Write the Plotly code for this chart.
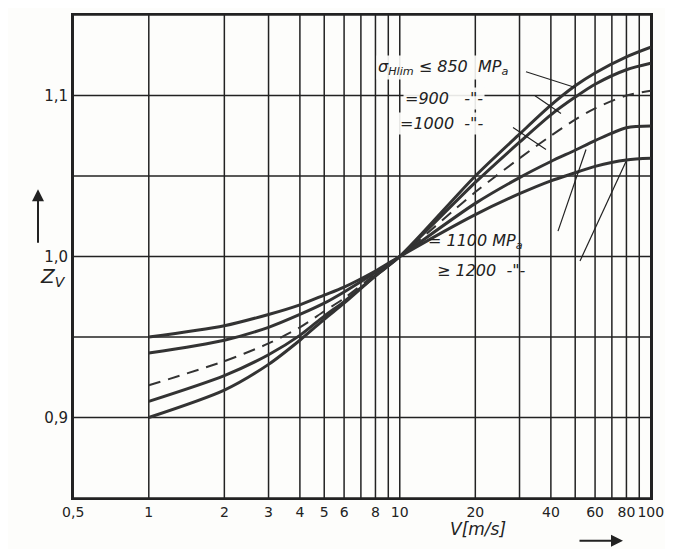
import plotly.graph_objects as go

v = [1, 2, 3, 4, 5, 6, 8, 10, 20, 30, 40, 50, 60, 80, 100]
z850 = [0.900, 0.917, 0.933, 0.948, 0.961, 0.971, 0.988, 1.0, 1.050, 1.076, 1.094, 1.106, 1.114, 1.124, 1.130]
z900 = [0.910, 0.926, 0.939, 0.951, 0.963, 0.972, 0.988, 1.0, 1.046, 1.071, 1.088, 1.099, 1.107, 1.116, 1.120]
z1000 = [0.920, 0.935, 0.946, 0.956, 0.966, 0.974, 0.989, 1.0, 1.040, 1.061, 1.075, 1.085, 1.092, 1.100, 1.103]
z1100 = [0.940, 0.948, 0.956, 0.964, 0.971, 0.978, 0.990, 1.0, 1.033, 1.049, 1.059, 1.066, 1.072, 1.080, 1.081]
z1200 = [0.950, 0.957, 0.964, 0.970, 0.976, 0.981, 0.991, 1.0, 1.026, 1.039, 1.047, 1.052, 1.056, 1.060, 1.061]

xticks = [0.5, 1, 2, 3, 4, 5, 6, 8, 10, 20, 40, 60, 80, 100]
xtick_text = ["0,5", "1", "2", "3", "4", "5", "6", "8", "10", "20", "40", "60", "80", "100"]
xgrid = [0.5, 1, 2, 3, 4, 5, 6, 7, 8, 9, 10, 20, 30, 40, 50, 60, 70, 80, 90, 100]
yticks = [0.9, 1.0, 1.1]
ytick_text = ["0,9", "1,0", "1,1"]

W, H, L, R, T, B = 673, 549, 65, 30, 5, 59
PW, PH = W - L - R, H - T - B

col = "#333333"
fig = go.Figure()
for ys, dash in [(z850, "solid"), (z900, "solid"), (z1000, "dash"), (z1100, "solid"), (z1200, "solid")]:
    fig.add_trace(go.Scatter(x=v, y=ys, mode="lines", line=dict(color=col, width=3 if dash == "solid" else 2, dash="12px,8px" if dash == "dash" else None, shape="spline", smoothing=0.8), showlegend=False))

for g in xgrid:
    fig.add_shape(type="line", xref="x", yref="paper", x0=g, x1=g, y0=0, y1=1, line=dict(color="#222", width=1.5), layer="below")
for g in [0.85, 0.9, 0.95, 1.0, 1.05, 1.1, 1.15]:
    fig.add_shape(type="line", xref="paper", yref="y", x0=0, x1=1, y0=g, y1=g, line=dict(color="#222", width=1.5), layer="below")

def px(x, y):
    return (x - L) / PW, (H - B - y) / PH

leaders = [((518, 62), (568, 78)), ((527, 86), (553, 104)), ((505, 118), (538, 140)),
           ((550, 222), (578, 140)), ((572, 252), (618, 152))]
for (a, b) in leaders:
    x0, y0 = px(*a); x1, y1 = px(*b)
    fig.add_shape(type="line", xref="paper", yref="paper", x0=x0, y0=y0, x1=x1, y1=y1, line=dict(color="#222", width=1.2))

font = dict(family="DejaVu Sans", size=16, color="#222")
labels = [("σ<sub>Hlim</sub> ≤ 850  MP<sub>a</sub>", 435, 45, True), ("=900   -\"-", 477, 77, True), ("=1000  -\"-", 477, 102, True),
          ("= 1100 MP<sub>a</sub>", 517, 232, False), ("≥ 1200  -\"-", 520, 262, False)]
for t, x, y, bg in labels:
    xx, yy = px(x, y)
    fig.add_annotation(text="<i>" + t + "</i>", x=xx, y=yy, xref="paper", yref="paper", showarrow=False, font=font,
                       bgcolor="rgba(253,253,251,0.9)" if bg else None)

zx, zy = px(30, 268)
fig.add_annotation(text="<i>Z<sub>V</sub></i>", x=zx, y=zy, xref="paper", yref="paper", showarrow=False, font=dict(family="DejaVu Sans", size=20, color="#222"))
ax_, ay_ = px(30, 180)
fig.add_annotation(x=ax_, y=ay_, ax=0, ay=55, xref="paper", yref="paper", showarrow=True, arrowhead=2, arrowsize=1.2, arrowwidth=2, arrowcolor="#222", text="")
vx, vy = px(500, 533)
fig.add_annotation(text="<i>V[m/s]</i>", x=vx, y=vy, xref="paper", yref="paper", showarrow=False, font=dict(family="DejaVu Sans", size=17, color="#222"))
rx, ry = px(615, 533)
fig.add_annotation(x=rx, y=ry, ax=-45, ay=0, xref="paper", yref="paper", showarrow=True, arrowhead=2, arrowsize=1.2, arrowwidth=2, arrowcolor="#222", text="")

fig.update_xaxes(type="log", range=[-0.302, 2.001], tickvals=xticks, ticktext=xtick_text, showgrid=False, zeroline=False, tickangle=0,
                 showline=True, linecolor="#222", linewidth=2, mirror=True, tickfont=dict(family="DejaVu Sans", size=14, color="#222"), ticks="")
fig.update_yaxes(range=[0.85, 1.15], tickvals=yticks, ticktext=ytick_text, showgrid=False, zeroline=False,
                 showline=True, linecolor="#222", linewidth=2, mirror=True, tickfont=dict(family="DejaVu Sans", size=15, color="#222"), ticks="")
fig.update_layout(width=W, height=H, margin=dict(l=L, r=R, t=T, b=B), plot_bgcolor="#fdfdfb", paper_bgcolor="#fdfdfb")
fig.write_html("out.html")
